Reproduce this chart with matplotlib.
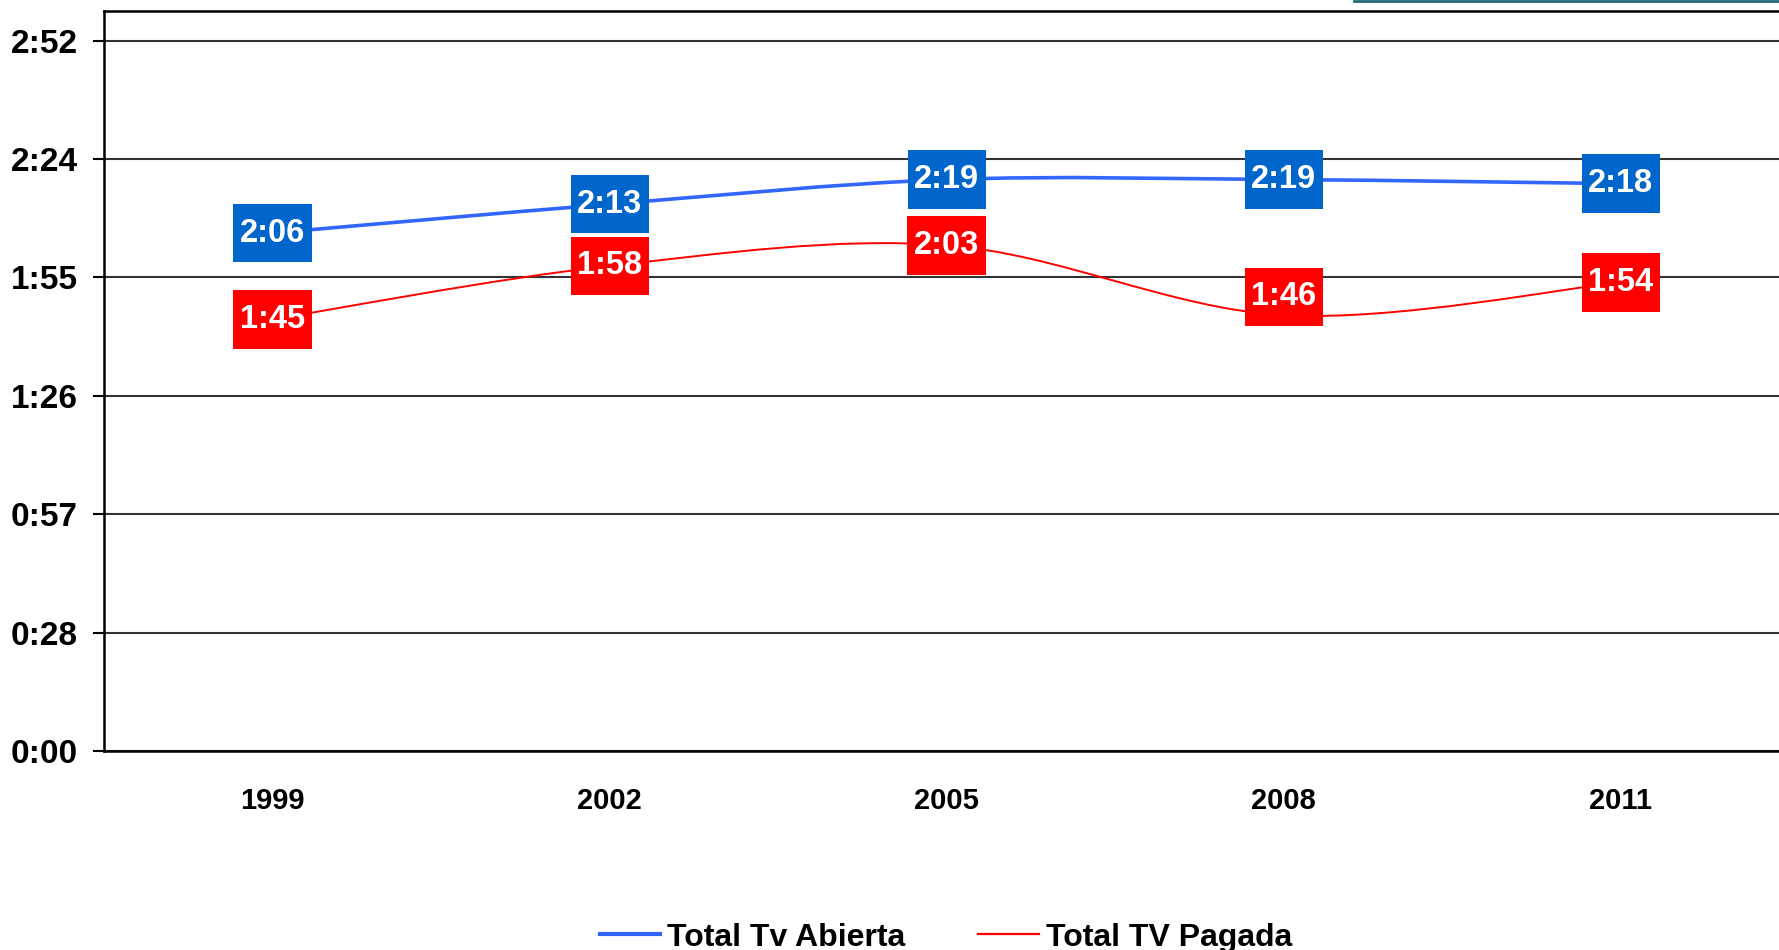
import matplotlib
matplotlib.use("Agg")
import matplotlib.pyplot as plt
from matplotlib.lines import Line2D
from matplotlib.path import Path
from matplotlib.patches import PathPatch
from matplotlib.ticker import FixedLocator, FuncFormatter

years = ["1999", "2002", "2005", "2008", "2011"]
# minutes per day
abierta = [126, 133, 139, 139, 138]
pagada = [105, 118, 123, 106, 114]
abierta_labels = ["2:06", "2:13", "2:19", "2:19", "2:18"]
pagada_labels = ["1:45", "1:58", "2:03", "1:46", "1:54"]
ytick_min = [0, 28.8, 57.6, 86.4, 115.2, 144.0, 172.8]

BLUE_LINE = "#3366ff"
BLUE_BOX = "#0066cc"
RED = "#ff0000"

BOLD = ["Liberation Sans", "DejaVu Sans"]


def hhmm(v, pos=None):
    m = int(v + 1e-6)
    return f"{m // 60}:{m % 60:02d}"


def smooth_path(xs, ys):
    # bezier through points, excel-style smoothing
    pts = list(zip(xs, ys))
    n = len(pts)
    verts = [pts[0]]
    codes = [Path.MOVETO]
    for i in range(n - 1):
        p0 = pts[i - 1] if i > 0 else pts[i]
        p1 = pts[i]
        p2 = pts[i + 1]
        p3 = pts[i + 2] if i + 2 < n else pts[i + 1]
        c1 = (p1[0] + (p2[0] - p0[0]) / 6, p1[1] + (p2[1] - p0[1]) / 6)
        c2 = (p2[0] - (p3[0] - p1[0]) / 6, p2[1] - (p3[1] - p1[1]) / 6)
        verts += [c1, c2, p2]
        codes += [Path.CURVE4] * 3
    return Path(verts, codes)


def label_box(x0, y0, width, height, mutation_size):
    # rectangle with more padding top/bottom than left/right
    px = 0.2 * mutation_size
    py = 0.42 * mutation_size
    x1, y1 = x0 + width + px, y0 + height + py
    x0, y0 = x0 - px, y0 - py
    return Path([(x0, y0), (x1, y0), (x1, y1), (x0, y1), (x0, y0)], closed=True)


fig = plt.figure(figsize=(17.79, 9.50), dpi=100)
ax = fig.add_axes([0.0585, 0.2095, 0.9472, 0.7789])

x = list(range(len(years)))

ax.add_patch(PathPatch(smooth_path(x, abierta), fill=False, ec=BLUE_LINE, lw=2.6, zorder=3))
ax.add_patch(PathPatch(smooth_path(x, pagada), fill=False, ec=RED, lw=1.4, zorder=3))

label_dy = [0, 0, 0, 4.5, 0]
for i in x:
    ax.text(i, abierta[i], abierta_labels[i], ha="center", va="center", color="white",
            fontsize=23.5, fontweight="bold", family=BOLD, zorder=5,
            bbox=dict(boxstyle=label_box, fc=BLUE_BOX, ec="none"))
    ax.text(i, pagada[i] + label_dy[i], pagada_labels[i], ha="center", va="center", color="white",
            fontsize=23.5, fontweight="bold", family=BOLD, zorder=5,
            bbox=dict(boxstyle=label_box, fc=RED, ec="none"))

ax.set_xlim(-0.5, 4.5)
ax.set_ylim(0, 180)
ax.yaxis.set_major_locator(FixedLocator(ytick_min))
ax.yaxis.set_major_formatter(FuncFormatter(hhmm))
ax.set_xticks(x)
ax.set_xticklabels(years)
ax.tick_params(axis="x", length=0, pad=26)
ax.tick_params(axis="y", length=8, width=1.5, pad=11, direction="out")
for lab in ax.get_xticklabels():
    lab.set_fontsize(21)
    lab.set_fontweight("bold")
    lab.set_family(BOLD)
for lab in ax.get_yticklabels():
    lab.set_fontsize(24)
    lab.set_fontweight("bold")
    lab.set_family(BOLD)

ax.grid(axis="y", color="#333333", lw=1.5)
ax.set_axisbelow(True)
for side in ["left", "bottom", "top"]:
    ax.spines[side].set_linewidth(1.8)
    ax.spines[side].set_color("black")
ax.spines["right"].set_visible(False)

# stray border at top right of the original slide
fig.add_artist(Line2D([0.761, 1.0], [0.999, 0.999], color="#1f6b75", lw=2, transform=fig.transFigure))

handles = [Line2D([], [], color=BLUE_LINE, lw=3), Line2D([], [], color=RED, lw=1.6)]
fig.legend(handles, ["Total Tv Abierta", "Total TV Pagada"], loc="lower center",
           bbox_to_anchor=(0.5316, -0.033), ncol=2, frameon=False, handlelength=1.9,
           handletextpad=0.2, columnspacing=2.3,
           prop=dict(family=BOLD, weight="bold", size=23))

fig.savefig("out.png", dpi=100)
